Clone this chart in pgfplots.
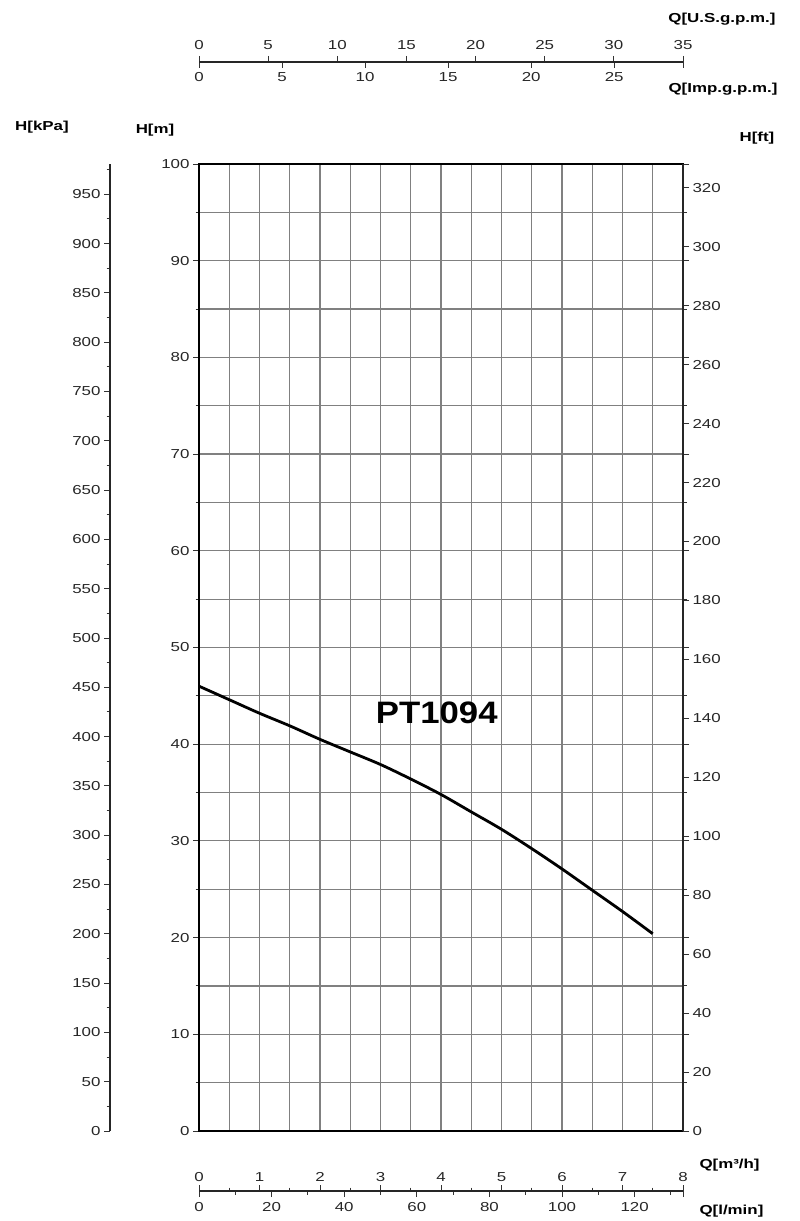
\documentclass[border=0pt]{standalone}
\usepackage{fontspec}
\setmainfont{Liberation Sans}[FakeStretch=1.3]
\newfontfamily\namefont{Liberation Sans}[FakeStretch=1.12]
\usepackage{pgfplots}
\pgfplotsset{compat=1.18}

\pgfplotsset{
  pumpscale/.style={
    scale only axis,
    /pgf/number format/assume math mode=true,
    ticklabel style={font=\fontsize{13}{14}\selectfont, text=black!85},
    tick style={black!80, line width=0.9pt},
    major tick length=6pt, minor tick length=3.5pt,
    tick align=outside,
    axis line style={black!85, line width=1.1pt},
  },
  flowscale/.style={
    pumpscale, width=484pt, height=10pt, ymin=0, ymax=1, axis y line=none,
  },
}
\newcommand{\ttl}{\fontsize{13}{15}\selectfont\bfseries}

\begin{document}
\begin{tikzpicture}
\path[use as bounding box] (0pt,0pt) rectangle (800pt,1221pt);

% H[m] vs Q[m3/h]
\begin{axis}[pumpscale, at={(199pt,90pt)}, anchor=south west,
  width=484pt, height=967pt,
  xmin=0, xmax=8, ymin=0, ymax=100,
  xtick={0,0.5,...,8}, xmajorticks=false,
  ytick={0,10,...,100}, minor ytick={5,15,...,95},
  grid=both,
  major grid style={black!50, line width=1.2pt},
  minor grid style={black!50, line width=1.2pt},
  axis line style={black, line width=1.5pt},
]
\addplot[black, line width=2.8pt, smooth] coordinates {
  (0,46.0) (0.5,44.6) (1.0,43.2) (1.5,41.9) (2.0,40.5) (2.5,39.2)
  (3.0,37.9) (3.5,36.4) (4.0,34.8) (4.5,33.0) (5.0,31.2) (5.5,29.2)
  (6.0,27.1) (6.5,24.9) (7.0,22.7) (7.5,20.4)
};
\node[font=\namefont\bfseries\fontsize{31}{31}\selectfont] at (axis cs:3.93,43.2) {PT1094};
\end{axis}

% H[ft]
\begin{axis}[pumpscale, at={(199pt,90pt)}, anchor=south west,
  width=484pt, height=967pt,
  xmin=0, xmax=8, ymin=0, ymax=328.084,
  axis y line*=right, axis x line=none,
  ytick={0,20,...,320},
]
\end{axis}

% H[kPa]
\begin{axis}[pumpscale, at={(110pt,90pt)}, anchor=south west,
  width=10pt, height=967pt,
  xmin=0, xmax=1, ymin=0, ymax=980.665,
  axis y line*=left, axis x line=none,
  ytick={0,50,...,950}, minor ytick={25,75,...,975},
]
\end{axis}

% Q[U.S.g.p.m.]
\begin{axis}[flowscale, at={(199pt,1159pt)}, anchor=north west,
  xmin=0, xmax=35, axis x line*=top,
  xtick={0,5,...,35},
  xticklabel style={yshift=3pt},
]
\end{axis}
% Q[Imp.g.p.m.]
\begin{axis}[flowscale, at={(199pt,1159pt)}, anchor=south west,
  xmin=0, xmax=29.14, axis x line*=bottom,
  xtick={0,5,...,25},
  extra x ticks={29.14}, extra x tick labels={},
  xticklabel style={yshift=-1pt},
]
\end{axis}

% Q[m3/h]
\begin{axis}[flowscale, at={(199pt,30pt)}, anchor=north west,
  xmin=0, xmax=8, axis x line*=top,
  xtick={0,1,...,8}, minor xtick={0.5,1.5,...,7.5},
]
\end{axis}
% Q[l/min]
\begin{axis}[flowscale, at={(199pt,30pt)}, anchor=south west,
  xmin=0, xmax=133.33, axis x line*=bottom,
  xtick={0,20,...,120}, minor xtick={10,30,...,130},
  extra x ticks={133.33}, extra x tick labels={},
  xticklabel style={yshift=-2pt},
]
\end{axis}

\node[font=\ttl] at (42pt,1094pt) {H[kPa]};
\node[font=\ttl] at (155pt,1091pt) {H[m]};
\node[font=\ttl] at (757pt,1083pt) {H[ft]};
\node[font=\ttl, anchor=east] at (779pt,1202pt) {Q[U.S.g.p.m.]};
\node[font=\ttl, anchor=east] at (781pt,1132pt) {Q[Imp.g.p.m.]};
\node[font=\ttl, anchor=west] at (696pt,56pt) {Q[m³/h]};
\node[font=\ttl, anchor=west] at (696pt,10pt) {Q[l/min]};
\end{tikzpicture}
\end{document}
